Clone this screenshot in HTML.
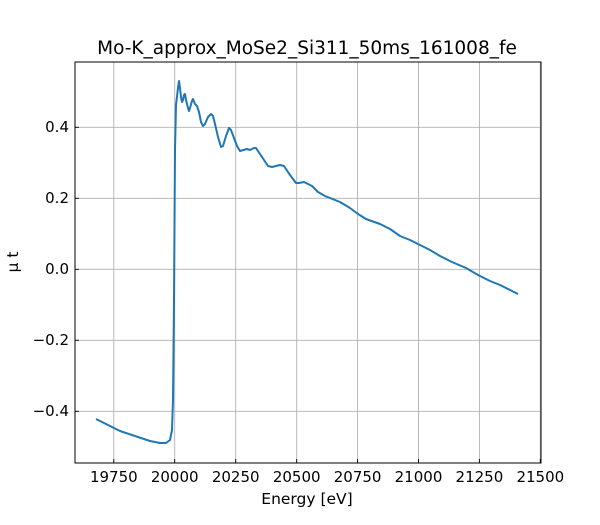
<!DOCTYPE html>
<html><head><meta charset="utf-8"><style>body{margin:0;background:#fff}svg text{font-family:"DejaVu Sans","Liberation Sans",sans-serif;fill:#000}</style></head>
<body><svg width="600" height="520" viewBox="0 0 600 520" xmlns="http://www.w3.org/2000/svg">
<rect width="600" height="520" fill="#fff"/>
<g stroke="#b0b0b0" stroke-width="0.9">
<line x1="113.8" y1="62" x2="113.8" y2="463"/><line x1="174.7" y1="62" x2="174.7" y2="463"/><line x1="235.7" y1="62" x2="235.7" y2="463"/><line x1="296.7" y1="62" x2="296.7" y2="463"/><line x1="357.6" y1="62" x2="357.6" y2="463"/><line x1="418.5" y1="62" x2="418.5" y2="463"/><line x1="479.4" y1="62" x2="479.4" y2="463"/><line x1="540.3" y1="62" x2="540.3" y2="463"/>
<line x1="75" y1="127.3" x2="541" y2="127.3"/><line x1="75" y1="198.3" x2="541" y2="198.3"/><line x1="75" y1="269.3" x2="541" y2="269.3"/><line x1="75" y1="340.3" x2="541" y2="340.3"/><line x1="75" y1="411.3" x2="541" y2="411.3"/>
</g>
<polyline fill="none" stroke="#1f77b4" stroke-width="2" stroke-linejoin="round" points="96,419 120,431 150,441 160,443 166,443 170,440 172,430 173,400 174,300 175,150 176,105 178,88 179,81 180,88 181,97 182,102 183,100 184,95 185,94 186,100 188,108 189,111 190,108 192,101 193,99 195,104 197,106 199,112 201,122 203,126 205,124 208,117 211,114 213,116 215,124 218,137 221,147 223,146 226,136 229,128 231,130 234,138 237,146 240,151 247,149 250,150 254,148 256,148 262,157 268,166 272,167 280,165 284,166 290,175 296,183 299,183 304,182 312,186 318,192 325,196 340,202 350,208 358,214 366,219 380,224 390,229 400,236 410,240 418,244 430,250 440,256 452,262 466,268 478,275 490,281 500,285 518,294"/>
<rect x="75" y="62" width="466" height="401" fill="none" stroke="#000" stroke-width="1"/>
<g stroke="#000" stroke-width="0.9">
<line x1="113.8" y1="463" x2="113.8" y2="459"/><line x1="174.7" y1="463" x2="174.7" y2="459"/><line x1="235.7" y1="463" x2="235.7" y2="459"/><line x1="296.7" y1="463" x2="296.7" y2="459"/><line x1="357.6" y1="463" x2="357.6" y2="459"/><line x1="418.5" y1="463" x2="418.5" y2="459"/><line x1="479.4" y1="463" x2="479.4" y2="459"/><line x1="540.3" y1="463" x2="540.3" y2="459"/>
<line x1="75" y1="127.3" x2="79" y2="127.3"/><line x1="75" y1="198.3" x2="79" y2="198.3"/><line x1="75" y1="269.3" x2="79" y2="269.3"/><line x1="75" y1="340.3" x2="79" y2="340.3"/><line x1="75" y1="411.3" x2="79" y2="411.3"/>
</g>
<g font-size="15" text-anchor="middle">
<text x="113.8" y="482">19750</text><text x="174.7" y="482">20000</text><text x="235.7" y="482">20250</text><text x="296.7" y="482">20500</text><text x="357.6" y="482">20750</text><text x="418.5" y="482">21000</text><text x="479.4" y="482">21250</text><text x="540.3" y="482">21500</text>
</g>
<g font-size="15" text-anchor="end">
<text x="69" y="132">0.4</text><text x="69" y="203">0.2</text><text x="69" y="274">0.0</text><text x="69" y="345">−0.2</text><text x="69" y="416">−0.4</text>
</g>
<text x="307" y="504" font-size="15.5" text-anchor="middle">Energy [eV]</text>
<text x="18" y="262" font-size="15.5" text-anchor="middle" transform="rotate(-90 18 262)">μ t</text>
<text x="307" y="54" font-size="18.5" text-anchor="middle">Mo-K_approx_MoSe2_Si311_50ms_161008_fe</text>
</svg></body></html>
